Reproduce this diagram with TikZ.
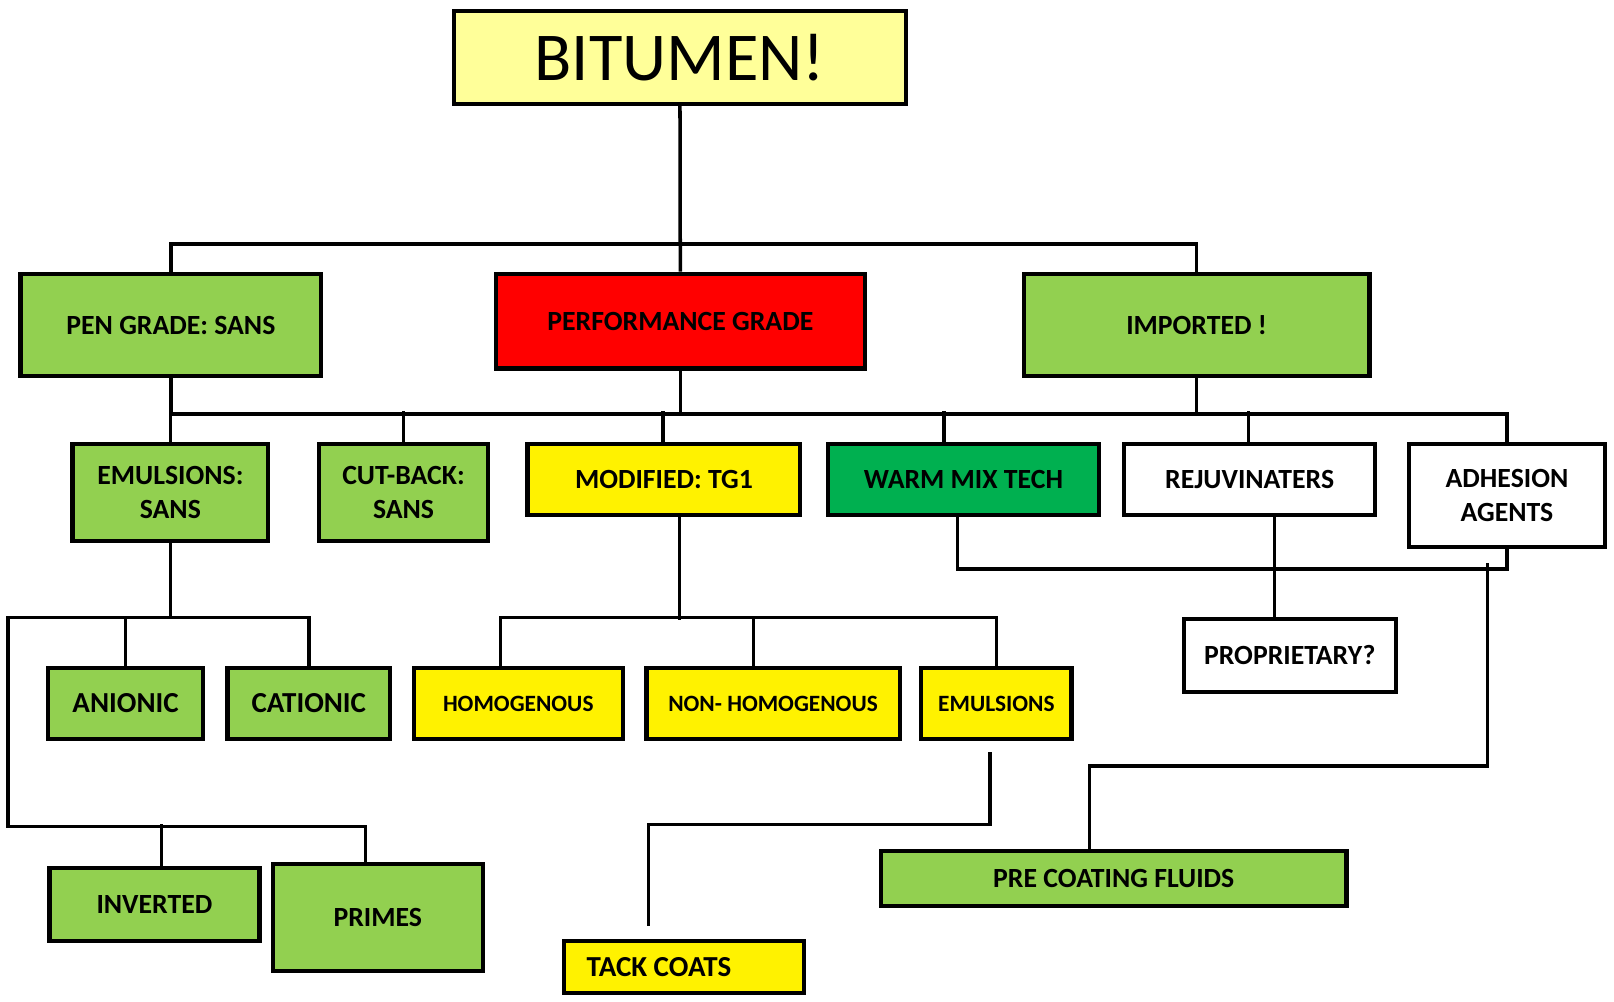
\documentclass[tikz,border=0pt]{standalone}
\usepackage{fontspec}
\setmainfont{Carlito}
\definecolor{lgreen}{HTML}{92D050}
\definecolor{dgreen}{HTML}{00B050}
\definecolor{pale}{HTML}{FFFF99}
\newcommand{\unitpx}{0.2059mm}
\begin{document}
\begin{tikzpicture}[x=0.2059mm,y=-0.2059mm,
	blk/.style 2 args={draw,line width=2.4pt,minimum width=#1*\unitpx,minimum height=#2*\unitpx,inner sep=0pt,align=center,font=\fontsize{15.8}{19}\selectfont\bfseries},
	small/.style={font=\fontsize{13.3}{16}\selectfont\bfseries},
	link/.style={line width=2pt}]
			\useasboundingbox (0,0) rectangle (1568,973);
			\node[blk={439}{90},fill=pale,font=\fontsize{39}{45}\selectfont] (bitumen) at (660.5,56) {BITUMEN!};

			\node[blk={292}{99},fill=lgreen] (pen) at (166,316) {PEN GRADE: SANS};
			\node[blk={359}{92},fill=red] (perf) at (661,312) {PERFORMANCE GRADE};
			\node[blk={336}{99},fill=lgreen] (imported) at (1162.5,316) {IMPORTED !};

			\node[blk={190}{94},fill=lgreen] (emuls) at (165.5,478.5) {EMULSIONS:\\SANS};
			\node[blk={164}{94},fill=lgreen] (cutback) at (392,478.5) {CUT-BACK:\\SANS};
			\node[blk={265}{69},fill=yellow] (modified) at (645,466) {MODIFIED: TG1};
			\node[blk={263}{69},fill=dgreen] (warm) at (936,466) {WARM MIX TECH};
			\node[blk={244}{69},fill=white] (rejuv) at (1214,466) {REJUVINATERS};
			\node[blk={190}{100},fill=white] (adhesion) at (1464,481.5) {ADHESION\\AGENTS};

			\node[blk={150}{69},fill=lgreen,font=\fontsize{16.5}{19}\selectfont\bfseries] (anionic) at (122,683.5) {ANIONIC};
			\node[blk={158}{69},fill=lgreen,font=\fontsize{16.5}{19}\selectfont\bfseries] (cationic) at (300,683.5) {CATIONIC};
			\node[blk={203}{69},fill=yellow,small] (homog) at (503.5,683.5) {HOMOGENOUS};
			\node[blk={246}{69},fill=yellow,small] (nonhomog) at (751,683.5) {NON- HOMOGENOUS};
			\node[blk={146}{69},fill=yellow,small] (emulsions) at (968,683.5) {EMULSIONS};
			\node[blk={206}{71},fill=white] (propr) at (1253,636.5) {PROPRIETARY?};

			\node[blk={204}{71},fill=lgreen] (inverted) at (150,878.5) {INVERTED};
			\node[blk={204}{104},fill=lgreen] (primes) at (367,891) {PRIMES};
			\node[blk={233}{51},fill=yellow,font=\fontsize{16.5}{19}\selectfont\bfseries] (tack) at (664.5,939.5) {TACK COATS\hspace*{10mm}};
			\node[blk={452}{53},fill=lgreen] (precoat) at (1082,853.5) {PRE COATING FLUIDS};

			\coordinate (top bus) at (0,237);
			\coordinate (mid bus) at (0,402);
			\coordinate (low bus) at (0,600);
			\coordinate (right bus) at (0,553);
			\coordinate (side) at (7.6,803);
			\coordinate (prm) at (355,803);
			\coordinate (adh stub) at (1445,547);
			\coordinate (pc bend) at (1058.5,744);
			\coordinate (tc stub) at (962,731);
			\coordinate (tc bend) at (630,801);
			\coordinate (tc end) at (630,900);

			\draw[link] (bitumen) -- (perf);
			\draw[link] (pen.north) -- (pen.north |- top bus) -- (imported.north |- top bus) -- (imported.north);

			\draw[link] (pen.south) -- (pen.south |- mid bus);
			\draw[link] (perf.south) -- (perf.south |- mid bus);
			\draw[link] (imported.south) -- (imported.south |- mid bus);
			\draw[link] (emuls.north) -- (emuls.north |- mid bus) -- (adhesion.north |- mid bus) -- (adhesion.north);
			\foreach \n/\s in {cutback/0,modified/-1,warm/-19,rejuv/-1}{
				\draw[link] (\n.north) ++(\s,0) -- ++(0,-30);
			}

			\draw[link] (emuls.south) -- (emuls.south |- low bus);
			\draw[link] (anionic.north) -- (anionic.north |- low bus);
			\draw[link] (cationic.north) -- (cationic.north |- low bus) -- (side |- low bus) -- (side) -- (prm) -- (prm |- primes.north);
			\draw[link] (inverted.north) ++(7,0) -- ++(0,-40);

			\draw[link] (modified.south) ++(15,0) -- ++(0,99.5);
			\draw[link] (homog.north) ++(-17.5,0) |- (emulsions.north |- low bus) -- (emulsions.north);
			\draw[link] (nonhomog.north) ++(-19,0) -- ++(0,-49);

			\draw[link] (warm.south) ++(-6,0) |- (adhesion.south |- right bus) -- (adhesion.south);
			\draw[link] (rejuv.south) ++(24,0) -- ++(0,100.5);
			\draw[link] (adh stub) |- (pc bend) -- (pc bend |- precoat.north);
			\draw[link] (tc stub) |- (tc bend) -- (tc end);
\end{tikzpicture}
\end{document}
